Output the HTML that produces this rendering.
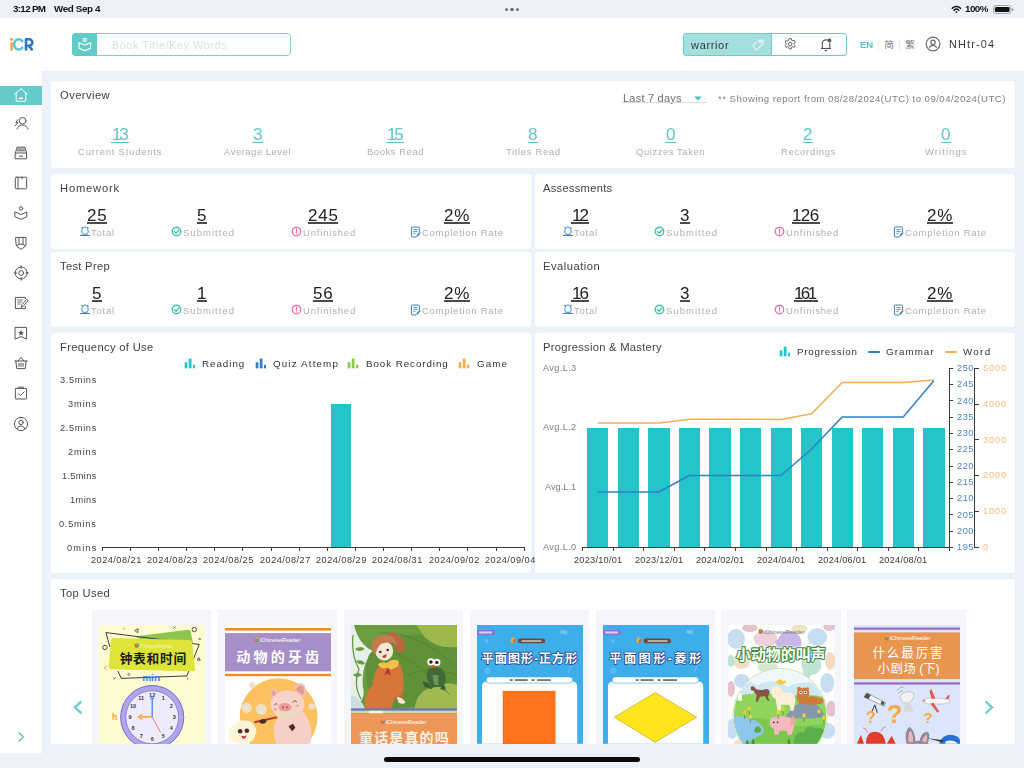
<!DOCTYPE html>
<html><head><meta charset="utf-8"><title>iCR</title>
<style>
html,body{margin:0;padding:0;}
body{width:1024px;height:768px;overflow:hidden;position:relative;background:#edf2fa;font-family:"Liberation Sans",sans-serif;}
.t{position:absolute;white-space:nowrap;will-change:transform;}
.b{position:absolute;display:block;}
.u{text-decoration:underline;text-decoration-thickness:1px;text-underline-offset:2px;}
</style></head><body>
<div class="b" style="left:0px;top:18px;width:1024px;height:53px;background:#fff;"></div>
<div class="b" style="left:0px;top:71px;width:42px;height:682px;background:#fff;"></div>
<div class="b" style="left:51px;top:81px;width:964px;height:87px;background:#fff;border-radius:3px;"></div>
<div class="b" style="left:51px;top:174px;width:480.20000000000005px;height:75px;background:#fff;border-radius:3px;"></div>
<div class="b" style="left:534.6px;top:174px;width:480.4px;height:75px;background:#fff;border-radius:3px;"></div>
<div class="b" style="left:51px;top:252px;width:480.20000000000005px;height:75px;background:#fff;border-radius:3px;"></div>
<div class="b" style="left:534.6px;top:252px;width:480.4px;height:75px;background:#fff;border-radius:3px;"></div>
<div class="b" style="left:51px;top:333px;width:480.20000000000005px;height:239.5px;background:#fff;border-radius:3px;"></div>
<div class="b" style="left:534.6px;top:333px;width:480.4px;height:239.5px;background:#fff;border-radius:3px;"></div>
<div class="b" style="left:51px;top:579px;width:964px;height:165px;background:#fff;border-radius:3px 3px 0 0;"></div>
<div class="t" style="left:12.50px;top:2.40px;font-size:9.8px;line-height:14px;color:#111;letter-spacing:-0.672px;font-weight:700;">3:12 PM</div>
<div class="t" style="left:53.50px;top:2.40px;font-size:9.8px;line-height:14px;color:#111;letter-spacing:-0.359px;font-weight:700;">Wed Sep 4</div>
<div class="b" style="left:504.9px;top:7.6px;width:3.2000000000000455px;height:3.200000000000001px;background:#6e7079;border-radius:50%;"></div>
<div class="b" style="left:510.4px;top:7.6px;width:3.2000000000000455px;height:3.200000000000001px;background:#6e7079;border-radius:50%;"></div>
<div class="b" style="left:515.9px;top:7.6px;width:3.2000000000000455px;height:3.200000000000001px;background:#6e7079;border-radius:50%;"></div>
<div class="t" style="left:965.40px;top:2.40px;font-size:9.8px;line-height:14px;color:#111;letter-spacing:-0.555px;font-weight:700;">100%</div>
<svg class="b" style="left:951.4px;top:4.8px;" width="10.8" height="8.6" viewBox="0 0 14 11.600" fill="none"><path d="M1.400 4.400 A8 8 0 0 1 12.600 4.400" stroke="#111" stroke-width="2.100" stroke-linecap="round"/><path d="M3.800 7 A4.600 4.600 0 0 1 10.200 7" stroke="#111" stroke-width="2.100" stroke-linecap="round"/><path d="M5.300 9.300 A2.400 2.400 0 0 1 8.700 9.300 L7 11.200 Z" fill="#111"/></svg>
<svg class="b" style="left:992.6px;top:4.5px;" width="21" height="9" viewBox="0 0 21 9" fill="none"><rect x="0.500" y="0.500" width="17.400" height="8" rx="2.300" stroke="#a0a2a9" stroke-width="1"/><rect x="1.900" y="1.900" width="14.600" height="5.200" rx="1.300" fill="#111"/><path d="M19 3 v3 a1.500 1.500 0 0 0 0 -3z" fill="#a0a2a9"/></svg>
<svg class="b" style="left:8px;top:34px;" width="28" height="20" viewBox="0 0 28 20" fill="none"><g fill="none" stroke-linecap="round" stroke-linejoin="round" stroke-width="2.600"><circle cx="3.550" cy="5.300" r="1.600" fill="#f4a64a" stroke="none"/><path d="M3.550 9.400 V15.400" stroke="#f4a64a"/><path d="M14.200 7.100 A4.600 5.100 0 1 0 14.200 13.700" stroke="#5bc8c4"/><path d="M18 5.300 V15.400 M18 5.300 H21 A3.300 3.300 0 0 1 21 11.900 H18 M21.300 12 L23.800 15.400" stroke="#2a76c6"/></g></svg>
<div class="b" style="left:72px;top:33px;width:219px;height:23px;background:#fff;border:1px solid #7fd0ce;border-radius:4px;box-sizing:border-box;"></div>
<div class="b" style="left:72px;top:33px;width:25px;height:23px;background:#62cac8;border-radius:4px 0 0 4px;"></div>
<svg class="b" style="left:77.8px;top:36.6px;" width="14" height="15" viewBox="0 0 14 15" fill="none"><circle cx="6.800" cy="2.900" r="1.500" stroke="#fff" stroke-width="1.150"/><path d="M1 5.800 L6.800 8 L12.600 5.800 V11.200 L6.800 13.600 L1 11.200 Z" stroke="#fff" stroke-width="1.200" stroke-linejoin="round"/></svg>
<div class="t" style="left:111.50px;top:37.50px;font-size:10.5px;line-height:15px;color:#dcdcdc;letter-spacing:0.754px;">Book Title/Key Words</div>
<div class="b" style="left:683px;top:33px;width:89px;height:23px;background:#a3dfdc;border:1px solid #6fcbc8;border-radius:3px 0 0 3px;box-sizing:border-box;"></div>
<div class="b" style="left:771px;top:33px;width:76px;height:23px;background:#fff;border:1px solid #6fcbc8;border-radius:0 3px 3px 0;box-sizing:border-box;"></div>
<div class="t" style="left:691.40px;top:36.50px;font-size:11.1px;line-height:16px;color:#2f3a3a;letter-spacing:0.614px;">warrior</div>
<svg class="b" style="left:750.8px;top:37.8px;" width="13.5" height="13.5" viewBox="0 0 15 15" fill="none"><path d="M8.2 2.2 L12.6 1.6 L13.2 6.4 L6.6 13.4 L2 9 Z" stroke="#fff" stroke-width="1" stroke-linejoin="round" transform="rotate(8 7.5 7.5)"/><circle cx="10.6" cy="4.6" r="1.2" stroke="#fff" stroke-width=".9"/></svg>
<svg class="b" style="left:783px;top:37.3px;" width="14.4" height="14.4" viewBox="0 0 16 16" fill="none"><g stroke="#555" stroke-width="1" fill="none"><circle cx="8" cy="8" r="2"/><path d="M6.8 1.8h2.4l.4 1.7 1.3.7 1.6-.6 1.2 2-1.2 1.2v1.4l1.2 1.2-1.2 2-1.6-.6-1.3.7-.4 1.7H6.800l-.4-1.700-1.300-.7-1.600.6-1.200-2 1.200-1.200V6.800L2.300 5.600l1.200-2 1.600.6 1.300-.7z" stroke-linejoin="round"/></g></svg>
<svg class="b" style="left:818px;top:36.5px;" width="16" height="16" viewBox="0 0 16 16" fill="none"><g stroke="#555" stroke-width="1.1" fill="none"><path d="M4.300 11.300 V6.600 A3.700 3.700 0 0 1 8 2.900 H9.500 M11.700 5.800 V11.300" stroke-linejoin="round"/><path d="M3 11.500 H13"/><path d="M6.800 13.600 H9.200"/></g><circle cx="11.400" cy="3.400" r="1.900" fill="#555"/></svg>
<div class="t" style="left:860.00px;top:38.30px;font-size:9.6px;line-height:13px;color:#55c4c2;letter-spacing:-0.037px;font-weight:700;">EN</div>
<div class="b" style="left:878px;top:40px;width:1px;height:10px;background:#ebebf1;"></div>
<div class="b" style="left:899px;top:40px;width:1px;height:10px;background:#ebebf1;"></div>
<svg class="b" style="left:883.7px;top:39px;" width="11" height="12" viewBox="0 0 11 12" fill="none"><text x="0.2" y="9.2" font-family="Liberation Sans, Noto Sans CJK SC, sans-serif" font-size="9.6" fill="#777">简</text></svg>
<svg class="b" style="left:905px;top:39px;" width="11" height="12" viewBox="0 0 11 12" fill="none"><text x="0.2" y="9.2" font-family="Liberation Sans, Noto Sans CJK TC, sans-serif" font-size="9.6" fill="#777">繁</text></svg>
<svg class="b" style="left:924.5px;top:36.45px;" width="16" height="16" viewBox="0 0 16 16" fill="none"><g stroke="#707070" stroke-width="1.250" fill="none"><circle cx="8" cy="8" r="6.850"/><circle cx="8" cy="6.300" r="2.200"/><path d="M4.300 11.800 A4 4 0 0 1 11.700 11.800"/></g></svg>
<div class="t" style="left:948.90px;top:37.10px;font-size:10.9px;line-height:15px;color:#3a3a3a;letter-spacing:1.141px;">NHtr-04</div>
<div class="b" style="left:0px;top:86px;width:42px;height:19px;background:#62cac8;"></div>
<svg class="b" style="left:13px;top:87px;" width="16" height="16" viewBox="0 0 16 16" fill="none"><g stroke="#fff" stroke-width="1" fill="none" stroke-linejoin="round" stroke-linecap="round"><path d="M1.6 7.2 L8 1.8 L14.4 7.200"/><path d="M3.2 6.200 V14.200 H12.800 V6.200"/><path d="M6.600 11.200 H9.400" stroke-width="1.4"/></g></svg>
<svg class="b" style="left:13px;top:115.3px;" width="16" height="16" viewBox="0 0 16 16" fill="none"><g stroke="#555" stroke-width="1" fill="none" stroke-linejoin="round" stroke-linecap="round"><circle cx="9.600" cy="5.800" r="3.300"/><path d="M4 14 A5.800 5.800 0 0 1 15 14"/><path d="M4.800 4.600 L3 7.400 H5 L2.200 10.800"/></g></svg>
<svg class="b" style="left:13px;top:145px;" width="16" height="16" viewBox="0 0 16 16" fill="none"><g stroke="#555" stroke-width="1" fill="none" stroke-linejoin="round" stroke-linecap="round"><path d="M2.400 8 L4 2.200 H12 L13.600 8 V13.800 H2.400 Z"/><path d="M2.400 8 H13.600"/><path d="M4.600 4 H11.400 M4.200 5.800 H11.800"/><path d="M6.400 11.200 H9.600"/></g></svg>
<svg class="b" style="left:13px;top:175px;" width="16" height="16" viewBox="0 0 16 16" fill="none"><g stroke="#555" stroke-width="1" fill="none" stroke-linejoin="round" stroke-linecap="round"><rect x="2.300" y="2.200" width="11.400" height="11.600" rx="1"/><path d="M5 2.200 V13.800"/><path d="M9 2.200 V3.800"/></g></svg>
<svg class="b" style="left:13px;top:205px;" width="16" height="16" viewBox="0 0 16 16" fill="none"><g stroke="#555" stroke-width="1" fill="none" stroke-linejoin="round" stroke-linecap="round"><circle cx="8" cy="3.400" r="1.700"/><path d="M2.200 7 L8 9.600 L13.800 7 V11.800 L8 14.400 L2.200 11.800 Z"/></g></svg>
<svg class="b" style="left:13px;top:235px;" width="16" height="16" viewBox="0 0 16 16" fill="none"><g stroke="#555" stroke-width="1" fill="none" stroke-linejoin="round" stroke-linecap="round"><path d="M3 2.400 H13 V9.400 Q13 11.800 8 14.300 Q3 11.800 3 9.400 Z"/><path d="M6 2.400 V9 M10 2.400 V9"/><path d="M4.200 10.400 Q8 7.400 11.800 10.400"/></g></svg>
<svg class="b" style="left:13px;top:265px;" width="16" height="16" viewBox="0 0 16 16" fill="none"><g stroke="#555" stroke-width="1" fill="none" stroke-linejoin="round" stroke-linecap="round"><circle cx="8.200" cy="8" r="6"/><circle cx="8.200" cy="8" r="2.400"/><path d="M8.200 .8 V3.400 M8.200 12.600 V15.200 M1 8 H3.600 M12.800 8 H15.400"/></g></svg>
<svg class="b" style="left:13px;top:295px;" width="16" height="16" viewBox="0 0 16 16" fill="none"><g stroke="#555" stroke-width="1" fill="none" stroke-linejoin="round" stroke-linecap="round"><path d="M12.400 11.400 V13.600 H2.400 V2.400 H12.400 V3.600"/><path d="M4.600 5 H9.600 M4.600 7 H8.600 M4.600 9 H7.400" stroke-width=".8"/><path d="M8.400 12 L9 9.600 L13.600 4.400 L15 5.600 L10.600 11 Z"/></g></svg>
<svg class="b" style="left:13px;top:324.8px;" width="16" height="16" viewBox="0 0 16 16" fill="none"><g stroke="#555" stroke-width="1" fill="none" stroke-linejoin="round" stroke-linecap="round"><path d="M2.400 2.400 H13.600 V14 L8 11.600 L2.400 14 Z"/><path d="M8 4.800 L8.900 6.900 L11 7 L9.400 8.400 L10 10.600 L8 9.400 L6 10.600 L6.600 8.400 L5 7 L7.100 6.900 Z" fill="#555" stroke="none"/></g></svg>
<svg class="b" style="left:13px;top:355px;" width="16" height="16" viewBox="0 0 16 16" fill="none"><g stroke="#555" stroke-width="1" fill="none" stroke-linejoin="round" stroke-linecap="round"><path d="M1.800 6 H14.200"/><path d="M2.800 6 L3.800 13.600 H12.200 L13.200 6"/><path d="M5 6 L8 2.400 L11 6"/><path d="M6 8.400 V11.400 M8 8.400 V11.400 M10 8.400 V11.400"/></g></svg>
<svg class="b" style="left:13px;top:385px;" width="16" height="16" viewBox="0 0 16 16" fill="none"><g stroke="#555" stroke-width="1" fill="none" stroke-linejoin="round" stroke-linecap="round"><rect x="2.400" y="3.400" width="11.200" height="10.600" rx=".6"/><path d="M5.600 3.400 V2.200 H10.400 V3.400"/><path d="M5.400 8.600 L7.400 10.600 L11 7"/></g></svg>
<svg class="b" style="left:13px;top:415.5px;" width="16" height="16" viewBox="0 0 16 16" fill="none"><g stroke="#555" stroke-width="1" fill="none" stroke-linejoin="round" stroke-linecap="round"><circle cx="8" cy="8" r="6.600"/><circle cx="8" cy="6.400" r="2.200"/><path d="M4.200 12.600 A4 4 0 0 1 11.800 12.600"/></g></svg>
<svg class="b" style="left:16px;top:730px;" width="10" height="14" viewBox="0 0 10 14" fill="none"><path d="M2.500 2.500 L7.500 7 L2.500 11.500" stroke="#62c6c4" stroke-width="1.300" fill="none"/></svg>
<div class="t" style="left:59.90px;top:87.00px;font-size:11.2px;line-height:16px;color:#424242;letter-spacing:0.432px;">Overview</div>
<div class="t" style="left:622.50px;top:90.70px;font-size:11px;line-height:15px;color:#6e6e6e;letter-spacing:0.225px;">Last 7 days</div>
<div class="b" style="left:622px;top:102px;width:85px;height:1px;background:#dadada;"></div>
<svg class="b" style="left:693px;top:94.6px;" width="10" height="7" viewBox="0 0 10 7" fill="none"><path d="M1.200 1.500 H8.800 L5 5.500 Z" fill="#4cc2c0"/></svg>
<div class="t" style="left:718.00px;top:91.70px;font-size:9.6px;line-height:13px;color:#808080;letter-spacing:0.475px;">** Showing report from 08/28/2024(UTC) to 09/04/2024(UTC)</div>
<div class="t" style="left:111.54px;top:121.90px;font-size:17.2px;line-height:24px;color:#5fc7c5;letter-spacing:-2.200px;">13</div>
<div class="b" style="left:110.93518750000001px;top:141.7px;width:18.129624999999976px;height:1.3000000000000114px;background:#5fc7c5;"></div>
<div class="t" style="left:78.00px;top:145.10px;font-size:9.5px;line-height:13px;color:#b0b0b0;letter-spacing:0.779px;">Current Students</div>
<div class="t" style="left:252.72px;top:121.90px;font-size:17.2px;line-height:24px;color:#5fc7c5;">3</div>
<div class="b" style="left:252.11759375px;top:141.7px;width:10.764812500000033px;height:1.3000000000000114px;background:#5fc7c5;"></div>
<div class="t" style="left:224.00px;top:145.10px;font-size:9.5px;line-height:13px;color:#b0b0b0;letter-spacing:0.495px;">Average Level</div>
<div class="t" style="left:386.54px;top:121.90px;font-size:17.2px;line-height:24px;color:#5fc7c5;letter-spacing:-2.200px;">15</div>
<div class="b" style="left:385.9351875px;top:141.7px;width:18.129625000000033px;height:1.3000000000000114px;background:#5fc7c5;"></div>
<div class="t" style="left:366.50px;top:145.10px;font-size:9.5px;line-height:13px;color:#b0b0b0;letter-spacing:0.528px;">Books Read</div>
<div class="t" style="left:528.22px;top:121.90px;font-size:17.2px;line-height:24px;color:#5fc7c5;">8</div>
<div class="b" style="left:527.61759375px;top:141.7px;width:10.764812500000062px;height:1.3000000000000114px;background:#5fc7c5;"></div>
<div class="t" style="left:505.50px;top:145.10px;font-size:9.5px;line-height:13px;color:#b0b0b0;letter-spacing:0.631px;">Titles Read</div>
<div class="t" style="left:665.72px;top:121.90px;font-size:17.2px;line-height:24px;color:#5fc7c5;">0</div>
<div class="b" style="left:665.11759375px;top:141.7px;width:10.764812500000062px;height:1.3000000000000114px;background:#5fc7c5;"></div>
<div class="t" style="left:636.00px;top:145.10px;font-size:9.5px;line-height:13px;color:#b0b0b0;letter-spacing:0.531px;">Quizzes Taken</div>
<div class="t" style="left:803.22px;top:121.90px;font-size:17.2px;line-height:24px;color:#5fc7c5;">2</div>
<div class="b" style="left:802.61759375px;top:141.7px;width:10.764812500000062px;height:1.3000000000000114px;background:#5fc7c5;"></div>
<div class="t" style="left:780.50px;top:145.10px;font-size:9.5px;line-height:13px;color:#b0b0b0;letter-spacing:0.717px;">Recordings</div>
<div class="t" style="left:941.22px;top:121.90px;font-size:17.2px;line-height:24px;color:#5fc7c5;">0</div>
<div class="b" style="left:940.61759375px;top:141.7px;width:10.764812500000062px;height:1.3000000000000114px;background:#5fc7c5;"></div>
<div class="t" style="left:925.00px;top:145.10px;font-size:9.5px;line-height:13px;color:#b0b0b0;letter-spacing:1.052px;">Writings</div>
<div class="t" style="left:60.00px;top:180.00px;font-size:11.2px;line-height:16px;color:#424242;letter-spacing:0.811px;">Homework</div>
<div class="t" style="left:87.15px;top:203.90px;font-size:17px;line-height:24px;color:#222;letter-spacing:0.800px;">25</div>
<div class="b" style="left:86.64640625px;top:222.4px;width:20.707187500000003px;height:1.299999999999983px;background:#4a4a4a;"></div>
<svg class="b" style="left:80.3px;top:226.3px;" width="11" height="11" viewBox="0 0 11 11" fill="none"><g stroke="#3f86c8" stroke-width="1" fill="none" stroke-linejoin="round"><path d="M2.300 3.300 L1.900 1.300 L3.600 2.100 L5 .5 L6.400 2.100 L8.100 1.300 L7.700 3.300 A3.700 3.700 0 0 1 6.600 8.300 H3.400 A3.700 3.700 0 0 1 2.300 3.300 Z"/><path d="M.3 9.500 H9.700 M3.200 8.400 L2.400 9.500 M6.800 8.400 L7.600 9.500" stroke-linecap="round"/></g></svg>
<div class="t" style="left:90.90px;top:226.10px;font-size:9.5px;line-height:13px;color:#b0b0b0;letter-spacing:0.759px;">Total</div>
<div class="t" style="left:197.27px;top:203.90px;font-size:17px;line-height:24px;color:#222;letter-spacing:0.800px;">5</div>
<div class="b" style="left:196.773203125px;top:222.4px;width:10.45359375000001px;height:1.299999999999983px;background:#4a4a4a;"></div>
<svg class="b" style="left:171px;top:226.3px;" width="11" height="11" viewBox="0 0 11 11" fill="none"><g stroke="#3fc3a2" stroke-width="1.350" fill="none" stroke-linecap="round" stroke-linejoin="round"><circle cx="5.500" cy="5.500" r="4.250"/><path d="M3.400 5.600 L5 7.200 L7.800 4.200"/></g></svg>
<div class="t" style="left:182.50px;top:226.10px;font-size:9.5px;line-height:13px;color:#b0b0b0;letter-spacing:1.029px;">Submitted</div>
<div class="t" style="left:308.02px;top:203.90px;font-size:17px;line-height:24px;color:#222;letter-spacing:0.800px;">245</div>
<div class="b" style="left:307.519609375px;top:222.4px;width:30.960781250000025px;height:1.299999999999983px;background:#4a4a4a;"></div>
<svg class="b" style="left:290.5px;top:226.3px;" width="11" height="11" viewBox="0 0 11 11" fill="none"><g stroke="#f7679e" stroke-width="1.250" fill="none" stroke-linecap="round"><circle cx="5.500" cy="5.500" r="4.250"/><path d="M5.500 3.100 V6.300" stroke-width="1.100"/><path d="M5.500 7.900 V8" stroke-width="1.100"/></g></svg>
<div class="t" style="left:302.60px;top:226.10px;font-size:9.5px;line-height:13px;color:#b0b0b0;letter-spacing:0.813px;">Unfinished</div>
<div class="t" style="left:444.31px;top:203.90px;font-size:17px;line-height:24px;color:#222;letter-spacing:0.800px;">2%</div>
<div class="b" style="left:443.81484375px;top:222.4px;width:26.37031250000001px;height:1.299999999999983px;background:#4a4a4a;"></div>
<svg class="b" style="left:410px;top:226.3px;" width="11" height="12" viewBox="0 0 11 12" fill="none"><g stroke="#3580c4" stroke-width="1" fill="none" stroke-linejoin="round"><path d="M9.400 6 V2 Q9.400 1 8.400 1 H2.400 Q1.400 1 1.400 2 V10 Q1.400 11 2.400 11 H6"/><path d="M3.400 3.600 H7.400 M3.400 5.600 H7.400 M3.400 7.600 H5.400" stroke-width=".9"/><path d="M6.600 10.800 L7 9 L9.600 6.200 L10.400 7 L7.800 9.900 Z" fill="#3f86c8" stroke-width=".6"/></g></svg>
<div class="t" style="left:422.00px;top:226.10px;font-size:9.5px;line-height:13px;color:#b0b0b0;letter-spacing:0.732px;">Completion Rate</div>
<div class="t" style="left:60.00px;top:258.00px;font-size:11.2px;line-height:16px;color:#424242;letter-spacing:0.299px;">Test Prep</div>
<div class="t" style="left:92.27px;top:281.90px;font-size:17px;line-height:24px;color:#222;letter-spacing:0.800px;">5</div>
<div class="b" style="left:91.773203125px;top:300.4px;width:10.453593749999996px;height:1.3000000000000114px;background:#4a4a4a;"></div>
<svg class="b" style="left:80.3px;top:304.3px;" width="11" height="11" viewBox="0 0 11 11" fill="none"><g stroke="#3f86c8" stroke-width="1" fill="none" stroke-linejoin="round"><path d="M2.300 3.300 L1.900 1.300 L3.600 2.100 L5 .5 L6.400 2.100 L8.100 1.300 L7.700 3.300 A3.700 3.700 0 0 1 6.600 8.300 H3.400 A3.700 3.700 0 0 1 2.300 3.300 Z"/><path d="M.3 9.500 H9.700 M3.200 8.400 L2.400 9.500 M6.800 8.400 L7.600 9.500" stroke-linecap="round"/></g></svg>
<div class="t" style="left:90.90px;top:304.10px;font-size:9.5px;line-height:13px;color:#b0b0b0;letter-spacing:0.759px;">Total</div>
<div class="t" style="left:197.27px;top:281.90px;font-size:17px;line-height:24px;color:#222;letter-spacing:0.800px;">1</div>
<div class="b" style="left:196.773203125px;top:300.4px;width:10.45359375000001px;height:1.3000000000000114px;background:#4a4a4a;"></div>
<svg class="b" style="left:171px;top:304.3px;" width="11" height="11" viewBox="0 0 11 11" fill="none"><g stroke="#3fc3a2" stroke-width="1.350" fill="none" stroke-linecap="round" stroke-linejoin="round"><circle cx="5.500" cy="5.500" r="4.250"/><path d="M3.400 5.600 L5 7.200 L7.800 4.200"/></g></svg>
<div class="t" style="left:182.50px;top:304.10px;font-size:9.5px;line-height:13px;color:#b0b0b0;letter-spacing:1.029px;">Submitted</div>
<div class="t" style="left:313.15px;top:281.90px;font-size:17px;line-height:24px;color:#222;letter-spacing:0.800px;">56</div>
<div class="b" style="left:312.64640625px;top:300.4px;width:20.707187499999975px;height:1.3000000000000114px;background:#4a4a4a;"></div>
<svg class="b" style="left:290.5px;top:304.3px;" width="11" height="11" viewBox="0 0 11 11" fill="none"><g stroke="#f7679e" stroke-width="1.250" fill="none" stroke-linecap="round"><circle cx="5.500" cy="5.500" r="4.250"/><path d="M5.500 3.100 V6.300" stroke-width="1.100"/><path d="M5.500 7.900 V8" stroke-width="1.100"/></g></svg>
<div class="t" style="left:302.60px;top:304.10px;font-size:9.5px;line-height:13px;color:#b0b0b0;letter-spacing:0.813px;">Unfinished</div>
<div class="t" style="left:444.31px;top:281.90px;font-size:17px;line-height:24px;color:#222;letter-spacing:0.800px;">2%</div>
<div class="b" style="left:443.81484375px;top:300.4px;width:26.37031250000001px;height:1.3000000000000114px;background:#4a4a4a;"></div>
<svg class="b" style="left:410px;top:304.3px;" width="11" height="12" viewBox="0 0 11 12" fill="none"><g stroke="#3580c4" stroke-width="1" fill="none" stroke-linejoin="round"><path d="M9.400 6 V2 Q9.400 1 8.400 1 H2.400 Q1.400 1 1.400 2 V10 Q1.400 11 2.400 11 H6"/><path d="M3.400 3.600 H7.400 M3.400 5.600 H7.400 M3.400 7.600 H5.400" stroke-width=".9"/><path d="M6.600 10.800 L7 9 L9.600 6.200 L10.400 7 L7.800 9.900 Z" fill="#3f86c8" stroke-width=".6"/></g></svg>
<div class="t" style="left:422.00px;top:304.10px;font-size:9.5px;line-height:13px;color:#b0b0b0;letter-spacing:0.732px;">Completion Rate</div>
<div class="t" style="left:543.00px;top:180.00px;font-size:11.2px;line-height:16px;color:#424242;letter-spacing:0.260px;">Assessments</div>
<div class="t" style="left:571.55px;top:203.90px;font-size:17px;line-height:24px;color:#222;letter-spacing:-2.007px;">12</div>
<div class="b" style="left:571.05px;top:222.4px;width:17.899999999999977px;height:1.299999999999983px;background:#4a4a4a;"></div>
<svg class="b" style="left:563.3px;top:226.3px;" width="11" height="11" viewBox="0 0 11 11" fill="none"><g stroke="#3f86c8" stroke-width="1" fill="none" stroke-linejoin="round"><path d="M2.300 3.300 L1.900 1.300 L3.600 2.100 L5 .5 L6.400 2.100 L8.100 1.300 L7.700 3.300 A3.700 3.700 0 0 1 6.600 8.300 H3.400 A3.700 3.700 0 0 1 2.300 3.300 Z"/><path d="M.3 9.500 H9.700 M3.200 8.400 L2.400 9.500 M6.800 8.400 L7.600 9.500" stroke-linecap="round"/></g></svg>
<div class="t" style="left:573.90px;top:226.10px;font-size:9.5px;line-height:13px;color:#b0b0b0;letter-spacing:0.759px;">Total</div>
<div class="t" style="left:680.27px;top:203.90px;font-size:17px;line-height:24px;color:#222;letter-spacing:0.800px;">3</div>
<div class="b" style="left:679.773203125px;top:222.4px;width:10.453593749999982px;height:1.299999999999983px;background:#4a4a4a;"></div>
<svg class="b" style="left:654px;top:226.3px;" width="11" height="11" viewBox="0 0 11 11" fill="none"><g stroke="#3fc3a2" stroke-width="1.350" fill="none" stroke-linecap="round" stroke-linejoin="round"><circle cx="5.500" cy="5.500" r="4.250"/><path d="M3.400 5.600 L5 7.200 L7.800 4.200"/></g></svg>
<div class="t" style="left:665.50px;top:226.10px;font-size:9.5px;line-height:13px;color:#b0b0b0;letter-spacing:1.029px;">Submitted</div>
<div class="t" style="left:792.45px;top:203.90px;font-size:17px;line-height:24px;color:#222;letter-spacing:-0.630px;">126</div>
<div class="b" style="left:791.95px;top:222.4px;width:28.100000000000023px;height:1.299999999999983px;background:#4a4a4a;"></div>
<svg class="b" style="left:773.5px;top:226.3px;" width="11" height="11" viewBox="0 0 11 11" fill="none"><g stroke="#f7679e" stroke-width="1.250" fill="none" stroke-linecap="round"><circle cx="5.500" cy="5.500" r="4.250"/><path d="M5.500 3.100 V6.300" stroke-width="1.100"/><path d="M5.500 7.900 V8" stroke-width="1.100"/></g></svg>
<div class="t" style="left:785.60px;top:226.10px;font-size:9.5px;line-height:13px;color:#b0b0b0;letter-spacing:0.813px;">Unfinished</div>
<div class="t" style="left:927.31px;top:203.90px;font-size:17px;line-height:24px;color:#222;letter-spacing:0.800px;">2%</div>
<div class="b" style="left:926.81484375px;top:222.4px;width:26.370312499999955px;height:1.299999999999983px;background:#4a4a4a;"></div>
<svg class="b" style="left:893px;top:226.3px;" width="11" height="12" viewBox="0 0 11 12" fill="none"><g stroke="#3580c4" stroke-width="1" fill="none" stroke-linejoin="round"><path d="M9.400 6 V2 Q9.400 1 8.400 1 H2.400 Q1.400 1 1.400 2 V10 Q1.400 11 2.400 11 H6"/><path d="M3.400 3.600 H7.400 M3.400 5.600 H7.400 M3.400 7.600 H5.400" stroke-width=".9"/><path d="M6.600 10.800 L7 9 L9.600 6.200 L10.400 7 L7.800 9.900 Z" fill="#3f86c8" stroke-width=".6"/></g></svg>
<div class="t" style="left:905.00px;top:226.10px;font-size:9.5px;line-height:13px;color:#b0b0b0;letter-spacing:0.732px;">Completion Rate</div>
<div class="t" style="left:543.00px;top:258.00px;font-size:11.2px;line-height:16px;color:#424242;letter-spacing:0.489px;">Evaluation</div>
<div class="t" style="left:571.55px;top:281.90px;font-size:17px;line-height:24px;color:#222;letter-spacing:-2.007px;">16</div>
<div class="b" style="left:571.05px;top:300.4px;width:17.899999999999977px;height:1.3000000000000114px;background:#4a4a4a;"></div>
<svg class="b" style="left:563.3px;top:304.3px;" width="11" height="11" viewBox="0 0 11 11" fill="none"><g stroke="#3f86c8" stroke-width="1" fill="none" stroke-linejoin="round"><path d="M2.300 3.300 L1.900 1.300 L3.600 2.100 L5 .5 L6.400 2.100 L8.100 1.300 L7.700 3.300 A3.700 3.700 0 0 1 6.600 8.300 H3.400 A3.700 3.700 0 0 1 2.300 3.300 Z"/><path d="M.3 9.500 H9.700 M3.200 8.400 L2.400 9.500 M6.800 8.400 L7.600 9.500" stroke-linecap="round"/></g></svg>
<div class="t" style="left:573.90px;top:304.10px;font-size:9.5px;line-height:13px;color:#b0b0b0;letter-spacing:0.759px;">Total</div>
<div class="t" style="left:680.27px;top:281.90px;font-size:17px;line-height:24px;color:#222;letter-spacing:0.800px;">3</div>
<div class="b" style="left:679.773203125px;top:300.4px;width:10.453593749999982px;height:1.3000000000000114px;background:#4a4a4a;"></div>
<svg class="b" style="left:654px;top:304.3px;" width="11" height="11" viewBox="0 0 11 11" fill="none"><g stroke="#3fc3a2" stroke-width="1.350" fill="none" stroke-linecap="round" stroke-linejoin="round"><circle cx="5.500" cy="5.500" r="4.250"/><path d="M3.400 5.600 L5 7.200 L7.800 4.200"/></g></svg>
<div class="t" style="left:665.50px;top:304.10px;font-size:9.5px;line-height:13px;color:#b0b0b0;letter-spacing:1.029px;">Submitted</div>
<div class="t" style="left:794.40px;top:281.90px;font-size:17px;line-height:24px;color:#222;letter-spacing:-2.580px;">161</div>
<div class="b" style="left:793.9px;top:300.4px;width:24.200000000000045px;height:1.3000000000000114px;background:#4a4a4a;"></div>
<svg class="b" style="left:773.5px;top:304.3px;" width="11" height="11" viewBox="0 0 11 11" fill="none"><g stroke="#f7679e" stroke-width="1.250" fill="none" stroke-linecap="round"><circle cx="5.500" cy="5.500" r="4.250"/><path d="M5.500 3.100 V6.300" stroke-width="1.100"/><path d="M5.500 7.900 V8" stroke-width="1.100"/></g></svg>
<div class="t" style="left:785.60px;top:304.10px;font-size:9.5px;line-height:13px;color:#b0b0b0;letter-spacing:0.813px;">Unfinished</div>
<div class="t" style="left:927.31px;top:281.90px;font-size:17px;line-height:24px;color:#222;letter-spacing:0.800px;">2%</div>
<div class="b" style="left:926.81484375px;top:300.4px;width:26.370312499999955px;height:1.3000000000000114px;background:#4a4a4a;"></div>
<svg class="b" style="left:893px;top:304.3px;" width="11" height="12" viewBox="0 0 11 12" fill="none"><g stroke="#3580c4" stroke-width="1" fill="none" stroke-linejoin="round"><path d="M9.400 6 V2 Q9.400 1 8.400 1 H2.400 Q1.400 1 1.400 2 V10 Q1.400 11 2.400 11 H6"/><path d="M3.400 3.600 H7.400 M3.400 5.600 H7.400 M3.400 7.600 H5.400" stroke-width=".9"/><path d="M6.600 10.800 L7 9 L9.600 6.200 L10.400 7 L7.800 9.900 Z" fill="#3f86c8" stroke-width=".6"/></g></svg>
<div class="t" style="left:905.00px;top:304.10px;font-size:9.5px;line-height:13px;color:#b0b0b0;letter-spacing:0.732px;">Completion Rate</div>
<div class="t" style="left:60.00px;top:338.80px;font-size:11.2px;line-height:16px;color:#424242;letter-spacing:0.327px;">Frequency of Use</div>
<svg class="b" style="left:183.6px;top:357.9px;" width="11.6" height="11" viewBox="0 0 12 11" fill="none"><rect x="0.700" y="4.200" width="2.800" height="6.300" fill="#23c5c8"/><rect x="4.900" y="0.400" width="2.900" height="10.100" fill="#23c5c8"/><rect x="9.300" y="6.800" width="2.500" height="3.700" fill="#23c5c8"/></svg>
<div class="t" style="left:202.00px;top:357.40px;font-size:9.8px;line-height:14px;color:#333;letter-spacing:0.966px;">Reading</div>
<svg class="b" style="left:254.6px;top:357.9px;" width="11.6" height="11" viewBox="0 0 12 11" fill="none"><rect x="0.700" y="4.200" width="2.800" height="6.300" fill="#2f7fc6"/><rect x="4.900" y="0.400" width="2.900" height="10.100" fill="#2f7fc6"/><rect x="9.300" y="6.800" width="2.500" height="3.700" fill="#2f7fc6"/></svg>
<div class="t" style="left:272.70px;top:357.40px;font-size:9.8px;line-height:14px;color:#333;letter-spacing:1.152px;">Quiz Attemp</div>
<svg class="b" style="left:347.1px;top:357.9px;" width="11.6" height="11" viewBox="0 0 12 11" fill="none"><rect x="0.700" y="4.200" width="2.800" height="6.300" fill="#8bc84e"/><rect x="4.900" y="0.400" width="2.900" height="10.100" fill="#8bc84e"/><rect x="9.300" y="6.800" width="2.500" height="3.700" fill="#8bc84e"/></svg>
<div class="t" style="left:366.20px;top:357.40px;font-size:9.8px;line-height:14px;color:#333;letter-spacing:0.929px;">Book Recording</div>
<svg class="b" style="left:458.1px;top:357.9px;" width="11.6" height="11" viewBox="0 0 12 11" fill="none"><rect x="0.700" y="4.200" width="2.800" height="6.300" fill="#f6ad55"/><rect x="4.900" y="0.400" width="2.900" height="10.100" fill="#f6ad55"/><rect x="9.300" y="6.800" width="2.500" height="3.700" fill="#f6ad55"/></svg>
<div class="t" style="left:476.70px;top:357.40px;font-size:9.8px;line-height:14px;color:#333;letter-spacing:1.072px;">Game</div>
<div class="t" style="left:59.50px;top:374.40px;font-size:9.2px;line-height:13px;color:#444;letter-spacing:0.681px;">3.5mins</div>
<div class="t" style="left:67.50px;top:398.30px;font-size:9.2px;line-height:13px;color:#444;letter-spacing:0.940px;">3mins</div>
<div class="t" style="left:59.50px;top:422.20px;font-size:9.2px;line-height:13px;color:#444;letter-spacing:0.681px;">2.5mins</div>
<div class="t" style="left:67.50px;top:446.10px;font-size:9.2px;line-height:13px;color:#444;letter-spacing:0.940px;">2mins</div>
<div class="t" style="left:61.50px;top:470.00px;font-size:9.2px;line-height:13px;color:#444;letter-spacing:0.348px;">1.5mins</div>
<div class="t" style="left:69.50px;top:493.90px;font-size:9.2px;line-height:13px;color:#444;letter-spacing:0.440px;">1mins</div>
<div class="t" style="left:59.00px;top:517.80px;font-size:9.2px;line-height:13px;color:#444;letter-spacing:0.765px;">0.5mins</div>
<div class="t" style="left:66.50px;top:541.70px;font-size:9.2px;line-height:13px;color:#444;letter-spacing:1.190px;">0mins</div>
<div class="b" style="left:102px;top:547px;width:422.5px;height:1px;background:#3c3c3c;"></div>
<div class="b" style="left:101.5px;top:547px;width:1.0px;height:4px;background:#3c3c3c;"></div>
<div class="b" style="left:129.5px;top:547px;width:1.0px;height:4px;background:#3c3c3c;"></div>
<div class="b" style="left:158.0px;top:547px;width:1.0px;height:4px;background:#3c3c3c;"></div>
<div class="b" style="left:186.0px;top:547px;width:1.0px;height:4px;background:#3c3c3c;"></div>
<div class="b" style="left:214.0px;top:547px;width:1.0px;height:4px;background:#3c3c3c;"></div>
<div class="b" style="left:242.0px;top:547px;width:1.0px;height:4px;background:#3c3c3c;"></div>
<div class="b" style="left:270.5px;top:547px;width:1.0px;height:4px;background:#3c3c3c;"></div>
<div class="b" style="left:298.5px;top:547px;width:1.0px;height:4px;background:#3c3c3c;"></div>
<div class="b" style="left:326.5px;top:547px;width:1.0px;height:4px;background:#3c3c3c;"></div>
<div class="b" style="left:354.5px;top:547px;width:1.0px;height:4px;background:#3c3c3c;"></div>
<div class="b" style="left:383.0px;top:547px;width:1.0px;height:4px;background:#3c3c3c;"></div>
<div class="b" style="left:411.0px;top:547px;width:1.0px;height:4px;background:#3c3c3c;"></div>
<div class="b" style="left:439.0px;top:547px;width:1.0px;height:4px;background:#3c3c3c;"></div>
<div class="b" style="left:467.0px;top:547px;width:1.0px;height:4px;background:#3c3c3c;"></div>
<div class="b" style="left:495.5px;top:547px;width:1.0px;height:4px;background:#3c3c3c;"></div>
<div class="b" style="left:523.5px;top:547px;width:1.0px;height:4px;background:#3c3c3c;"></div>
<div class="b" style="left:331.2px;top:404px;width:19.80000000000001px;height:143px;background:#23c5c8;"></div>
<div class="b" style="left:51px;top:550px;width:483.5px;height:20px;overflow:hidden;">
<div class="t" style="left:39.96px;top:3.70px;font-size:9.2px;line-height:13px;color:#3a3a3a;letter-spacing:0.473px;">2024/08/21</div>
<div class="t" style="left:96.22px;top:3.70px;font-size:9.2px;line-height:13px;color:#3a3a3a;letter-spacing:0.473px;">2024/08/23</div>
<div class="t" style="left:152.48px;top:3.70px;font-size:9.2px;line-height:13px;color:#3a3a3a;letter-spacing:0.473px;">2024/08/25</div>
<div class="t" style="left:208.74px;top:3.70px;font-size:9.2px;line-height:13px;color:#3a3a3a;letter-spacing:0.473px;">2024/08/27</div>
<div class="t" style="left:265.00px;top:3.70px;font-size:9.2px;line-height:13px;color:#3a3a3a;letter-spacing:0.473px;">2024/08/29</div>
<div class="t" style="left:321.26px;top:3.70px;font-size:9.2px;line-height:13px;color:#3a3a3a;letter-spacing:0.473px;">2024/08/31</div>
<div class="t" style="left:377.52px;top:3.70px;font-size:9.2px;line-height:13px;color:#3a3a3a;letter-spacing:0.473px;">2024/09/02</div>
<div class="t" style="left:433.78px;top:3.70px;font-size:9.2px;line-height:13px;color:#3a3a3a;letter-spacing:0.473px;">2024/09/04</div>
</div>
<div class="t" style="left:543.00px;top:338.80px;font-size:11.2px;line-height:16px;color:#424242;letter-spacing:0.276px;">Progression &amp; Mastery</div>
<svg class="b" style="left:778.9px;top:345.9px;" width="11.6" height="11" viewBox="0 0 12 11" fill="none"><rect x="0.700" y="4.200" width="2.800" height="6.300" fill="#23c5c8"/><rect x="4.900" y="0.400" width="2.900" height="10.100" fill="#23c5c8"/><rect x="9.300" y="6.800" width="2.500" height="3.700" fill="#23c5c8"/></svg>
<div class="t" style="left:797.20px;top:345.40px;font-size:9.8px;line-height:14px;color:#333;letter-spacing:0.771px;">Progression</div>
<div class="b" style="left:867.5px;top:351.4px;width:12.0px;height:2.0px;background:#2f7fc6;border-radius:1px;"></div>
<div class="t" style="left:886.20px;top:345.40px;font-size:9.8px;line-height:14px;color:#333;letter-spacing:1.038px;">Grammar</div>
<div class="b" style="left:944.8px;top:351.4px;width:11.800000000000068px;height:2.0px;background:#f6ad55;border-radius:1px;"></div>
<div class="t" style="left:963.20px;top:345.40px;font-size:9.8px;line-height:14px;color:#333;letter-spacing:1.288px;">Word</div>
<div class="t" style="left:543.00px;top:361.80px;font-size:9.2px;line-height:13px;color:#808080;letter-spacing:0.362px;">Avg.L.3</div>
<div class="t" style="left:543.00px;top:421.47px;font-size:9.2px;line-height:13px;color:#808080;letter-spacing:0.362px;">Avg.L.2</div>
<div class="t" style="left:545.00px;top:481.14px;font-size:9.2px;line-height:13px;color:#808080;letter-spacing:0.028px;">Avg.L.1</div>
<div class="t" style="left:543.00px;top:540.81px;font-size:9.2px;line-height:13px;color:#808080;letter-spacing:0.362px;">Avg.L.0</div>
<div class="b" style="left:587.25px;top:427.7px;width:21.0px;height:119.30000000000001px;background:#23c5c8;"></div>
<div class="b" style="left:617.75px;top:427.7px;width:21.25px;height:119.30000000000001px;background:#23c5c8;"></div>
<div class="b" style="left:648.25px;top:427.7px;width:21.25px;height:119.30000000000001px;background:#23c5c8;"></div>
<div class="b" style="left:678.75px;top:427.7px;width:21.25px;height:119.30000000000001px;background:#23c5c8;"></div>
<div class="b" style="left:709.25px;top:427.7px;width:21.25px;height:119.30000000000001px;background:#23c5c8;"></div>
<div class="b" style="left:740.0px;top:427.7px;width:21.0px;height:119.30000000000001px;background:#23c5c8;"></div>
<div class="b" style="left:770.5px;top:427.7px;width:21.25px;height:119.30000000000001px;background:#23c5c8;"></div>
<div class="b" style="left:801.0px;top:427.7px;width:21.25px;height:119.30000000000001px;background:#23c5c8;"></div>
<div class="b" style="left:831.5px;top:427.7px;width:21.25px;height:119.30000000000001px;background:#23c5c8;"></div>
<div class="b" style="left:862.0px;top:427.7px;width:21.25px;height:119.30000000000001px;background:#23c5c8;"></div>
<div class="b" style="left:892.75px;top:427.7px;width:21.0px;height:119.30000000000001px;background:#23c5c8;"></div>
<div class="b" style="left:923.25px;top:427.7px;width:21.25px;height:119.30000000000001px;background:#23c5c8;"></div>
<div class="b" style="left:582.5px;top:547px;width:367.5px;height:1px;background:#3c3c3c;"></div>
<div class="b" style="left:582.0px;top:547px;width:1.0px;height:4px;background:#3c3c3c;"></div>
<div class="b" style="left:612.5px;top:547px;width:1.0px;height:4px;background:#3c3c3c;"></div>
<div class="b" style="left:643.0px;top:547px;width:1.0px;height:4px;background:#3c3c3c;"></div>
<div class="b" style="left:673.5px;top:547px;width:1.0px;height:4px;background:#3c3c3c;"></div>
<div class="b" style="left:704.0px;top:547px;width:1.0px;height:4px;background:#3c3c3c;"></div>
<div class="b" style="left:734.5px;top:547px;width:1.0px;height:4px;background:#3c3c3c;"></div>
<div class="b" style="left:765.5px;top:547px;width:1.0px;height:4px;background:#3c3c3c;"></div>
<div class="b" style="left:796.0px;top:547px;width:1.0px;height:4px;background:#3c3c3c;"></div>
<div class="b" style="left:826.5px;top:547px;width:1.0px;height:4px;background:#3c3c3c;"></div>
<div class="b" style="left:857.0px;top:547px;width:1.0px;height:4px;background:#3c3c3c;"></div>
<div class="b" style="left:887.5px;top:547px;width:1.0px;height:4px;background:#3c3c3c;"></div>
<div class="b" style="left:918.0px;top:547px;width:1.0px;height:4px;background:#3c3c3c;"></div>
<div class="b" style="left:948.5px;top:547px;width:1.0px;height:4px;background:#3c3c3c;"></div>
<div class="t" style="left:573.65px;top:553.70px;font-size:9.2px;line-height:13px;color:#3a3a3a;letter-spacing:0.240px;">2023/10/01</div>
<div class="t" style="left:634.75px;top:553.70px;font-size:9.2px;line-height:13px;color:#3a3a3a;letter-spacing:0.240px;">2023/12/01</div>
<div class="t" style="left:695.85px;top:553.70px;font-size:9.2px;line-height:13px;color:#3a3a3a;letter-spacing:0.240px;">2024/02/01</div>
<div class="t" style="left:756.95px;top:553.70px;font-size:9.2px;line-height:13px;color:#3a3a3a;letter-spacing:0.240px;">2024/04/01</div>
<div class="t" style="left:818.05px;top:553.70px;font-size:9.2px;line-height:13px;color:#3a3a3a;letter-spacing:0.240px;">2024/06/01</div>
<div class="t" style="left:879.15px;top:553.70px;font-size:9.2px;line-height:13px;color:#3a3a3a;letter-spacing:0.240px;">2024/08/01</div>
<div class="b" style="left:949px;top:368px;width:1px;height:180px;background:#3c3c3c;"></div>
<div class="b" style="left:974.2px;top:368px;width:1.0px;height:180px;background:#3c3c3c;"></div>
<div class="b" style="left:949.5px;top:367.7px;width:3.5px;height:1.0px;background:#3c3c3c;"></div>
<div class="t" style="left:956.90px;top:361.90px;font-size:9.2px;line-height:13px;color:#4a86c9;letter-spacing:0.526px;">250</div>
<div class="b" style="left:949.5px;top:384.0px;width:3.5px;height:1.0px;background:#3c3c3c;"></div>
<div class="t" style="left:956.90px;top:378.20px;font-size:9.2px;line-height:13px;color:#4a86c9;letter-spacing:0.526px;">245</div>
<div class="b" style="left:949.5px;top:400.3px;width:3.5px;height:1.0px;background:#3c3c3c;"></div>
<div class="t" style="left:956.90px;top:394.50px;font-size:9.2px;line-height:13px;color:#4a86c9;letter-spacing:0.526px;">240</div>
<div class="b" style="left:949.5px;top:416.6px;width:3.5px;height:1.0px;background:#3c3c3c;"></div>
<div class="t" style="left:956.90px;top:410.80px;font-size:9.2px;line-height:13px;color:#4a86c9;letter-spacing:0.526px;">235</div>
<div class="b" style="left:949.5px;top:432.9px;width:3.5px;height:1.0px;background:#3c3c3c;"></div>
<div class="t" style="left:956.90px;top:427.10px;font-size:9.2px;line-height:13px;color:#4a86c9;letter-spacing:0.526px;">230</div>
<div class="b" style="left:949.5px;top:449.2px;width:3.5px;height:1.0px;background:#3c3c3c;"></div>
<div class="t" style="left:956.90px;top:443.40px;font-size:9.2px;line-height:13px;color:#4a86c9;letter-spacing:0.526px;">225</div>
<div class="b" style="left:949.5px;top:465.5px;width:3.5px;height:1.0px;background:#3c3c3c;"></div>
<div class="t" style="left:956.90px;top:459.70px;font-size:9.2px;line-height:13px;color:#4a86c9;letter-spacing:0.526px;">220</div>
<div class="b" style="left:949.5px;top:481.8px;width:3.5px;height:1.0px;background:#3c3c3c;"></div>
<div class="t" style="left:956.90px;top:476.00px;font-size:9.2px;line-height:13px;color:#4a86c9;letter-spacing:0.526px;">215</div>
<div class="b" style="left:949.5px;top:498.1px;width:3.5px;height:1.0px;background:#3c3c3c;"></div>
<div class="t" style="left:956.90px;top:492.30px;font-size:9.2px;line-height:13px;color:#4a86c9;letter-spacing:0.526px;">210</div>
<div class="b" style="left:949.5px;top:514.4px;width:3.5px;height:1.0px;background:#3c3c3c;"></div>
<div class="t" style="left:956.90px;top:508.60px;font-size:9.2px;line-height:13px;color:#4a86c9;letter-spacing:0.526px;">205</div>
<div class="b" style="left:949.5px;top:530.7px;width:3.5px;height:1.0px;background:#3c3c3c;"></div>
<div class="t" style="left:956.90px;top:524.90px;font-size:9.2px;line-height:13px;color:#4a86c9;letter-spacing:0.526px;">200</div>
<div class="b" style="left:949.5px;top:547.0px;width:3.5px;height:1.0px;background:#3c3c3c;"></div>
<div class="t" style="left:956.90px;top:541.20px;font-size:9.2px;line-height:13px;color:#4a86c9;letter-spacing:0.526px;">195</div>
<div class="b" style="left:974.7px;top:367.7px;width:3.8999999999999773px;height:1.0px;background:#3c3c3c;"></div>
<div class="t" style="left:982.70px;top:361.90px;font-size:9.2px;line-height:13px;color:#f8bb78;letter-spacing:0.879px;">5000</div>
<div class="b" style="left:974.7px;top:403.56px;width:3.8999999999999773px;height:1.0px;background:#3c3c3c;"></div>
<div class="t" style="left:982.70px;top:397.76px;font-size:9.2px;line-height:13px;color:#f8bb78;letter-spacing:0.879px;">4000</div>
<div class="b" style="left:974.7px;top:439.41999999999996px;width:3.8999999999999773px;height:1.0px;background:#3c3c3c;"></div>
<div class="t" style="left:982.70px;top:433.62px;font-size:9.2px;line-height:13px;color:#f8bb78;letter-spacing:0.879px;">3000</div>
<div class="b" style="left:974.7px;top:475.28px;width:3.8999999999999773px;height:1.0px;background:#3c3c3c;"></div>
<div class="t" style="left:982.70px;top:469.48px;font-size:9.2px;line-height:13px;color:#f8bb78;letter-spacing:0.879px;">2000</div>
<div class="b" style="left:974.7px;top:511.14px;width:3.8999999999999773px;height:1.0px;background:#3c3c3c;"></div>
<div class="t" style="left:982.70px;top:505.34px;font-size:9.2px;line-height:13px;color:#f8bb78;letter-spacing:0.879px;">1000</div>
<div class="b" style="left:974.7px;top:547.0px;width:3.8999999999999773px;height:1.0px;background:#3c3c3c;"></div>
<div class="t" style="left:982.70px;top:541.20px;font-size:9.2px;line-height:13px;color:#f8bb78;">0</div>
<svg class="b" style="left:534px;top:333px;" width="481" height="240" viewBox="0 0 481 240" fill="none"><polyline points="63.75,90.00 94.30,90.00 124.85,90.00 155.40,86.30 185.95,86.30 216.50,86.30 247.05,86.40 277.60,80.80 308.15,49.50 338.70,49.50 369.25,49.50 399.80,47.00" stroke="#f6ad55" stroke-width="1.500" fill="none" stroke-linejoin="round"/><polyline points="63.75,159.00 94.30,159.00 124.85,159.00 155.40,142.50 185.95,142.50 216.50,142.50 247.05,142.50 277.60,116.00 308.15,84.00 338.70,84.00 369.25,84.00 399.80,47.80" stroke="#2f7fc6" stroke-width="1.500" fill="none" stroke-linejoin="round"/></svg>
<div class="t" style="left:60.00px;top:584.70px;font-size:11.2px;line-height:16px;color:#424242;letter-spacing:0.355px;">Top Used</div>
<div class="b" style="left:92.3px;top:609.5px;width:119.2px;height:134.5px;background:#f5f6fc;"></div>
<svg class="b" style="left:99.20px;top:625.2px;" width="106.2" height="118.8" viewBox="0 0 107 119" preserveAspectRatio="none"><rect width="107" height="119" fill="#fffbd1"/><path d="M36 11.5 L90 4.8 Q92 4.600 92.400 6.500 L94.800 19 L42 14 Z" fill="#8cc74b"/><path d="M7 7.600 L101 19.500 L88.500 51 L22.500 53.500 L19 46" fill="none" stroke="#3a3a3a" stroke-width="1" stroke-linejoin="round"/><path d="M7 7.600 L11 22" fill="none" stroke="#3a3a3a" stroke-width="1"/><path d="M14.500 13 L91 15 Q93.500 15.200 93.800 17.500 L96.800 44 Q97 46.500 94.500 46.400 L12 44.300 Q9.500 44.200 9.800 41.800 L12 15 Q12.300 13 14.500 13Z" fill="#dfe438"/><circle cx="96" cy="4.500" r="2.200" fill="none" stroke="#3a3a3a" stroke-width=".9"/><circle cx="6" cy="22.500" r="2.200" fill="none" stroke="#3a3a3a" stroke-width=".9"/><circle cx="30" cy="49.500" r="1" fill="none" stroke="#3a3a3a" stroke-width=".6"/><path d="M36 5.500 L39.500 3.800 L39 7.800Z M99 35 L102 35.500 L100.500 32.500Z" fill="none" stroke="#3a3a3a" stroke-width=".8"/><path d="M75 1.500 l2 2 m0 -2 l-2 2 M100.500 13 l2 2 m0 -2 l-2 2 M14.500 52.500 l2 2 m0 -2 l-2 2" stroke="#3a6a7a" stroke-width=".8"/><path d="M7.500 41 L5.500 43 L7.500 45 M88 51.500 L90 53.500 L88 55.500 M24.500 4.500 q1 -1.500 2 -.5" stroke="#f0643a" stroke-width=".8" fill="none"/><path d="M36.0 18.6 l2 -1 l2 1 v3.400 l-2 1 l-2 -1z" fill="#f6a821"/><path d="M38.0 19.6 l2 -1 v3.400 l-2 1z" fill="#3aa0e0"/><path d="M36.0 18.6 l2 1 v3.400 l-2 -1z" fill="#e8632a"/><text x="41.0" y="22.7" font-family="Liberation Sans, sans-serif" font-size="5.2" fill="#f4f4c8" textLength="33.0" lengthAdjust="spacingAndGlyphs">iChineseReader</text><text x="20.8" y="38.2" font-family="Liberation Sans, Noto Sans CJK SC, sans-serif" font-weight="700" font-size="12.8" fill="#1c1c1c" textLength="67" lengthAdjust="spacing">钟表和时间</text><text x="43.500" y="55.800" font-family="Liberation Sans, sans-serif" font-weight="700" font-size="8.500" fill="#3a7ff2" textLength="18" lengthAdjust="spacingAndGlyphs">min</text><text x="13" y="95.500" font-family="Liberation Sans, sans-serif" font-weight="700" font-size="9" fill="#f7a23c">h</text><circle cx="53.600" cy="92.400" r="31.800" fill="#b0a5e8" stroke="#7468d2" stroke-width="1"/><circle cx="53.600" cy="92.400" r="26.600" fill="#eeebff" stroke="#7e72d6" stroke-width=".8"/><text x="64.8" y="75.1" text-anchor="middle" font-family="Liberation Sans, sans-serif" font-weight="700" font-size="5.600" fill="#3a3a3a">1</text><text x="72.9" y="83.2" text-anchor="middle" font-family="Liberation Sans, sans-serif" font-weight="700" font-size="5.600" fill="#3a3a3a">2</text><text x="75.9" y="94.4" text-anchor="middle" font-family="Liberation Sans, sans-serif" font-weight="700" font-size="5.600" fill="#3a3a3a">3</text><text x="72.9" y="105.6" text-anchor="middle" font-family="Liberation Sans, sans-serif" font-weight="700" font-size="5.600" fill="#3a3a3a">4</text><text x="64.8" y="113.7" text-anchor="middle" font-family="Liberation Sans, sans-serif" font-weight="700" font-size="5.600" fill="#3a3a3a">5</text><text x="53.6" y="116.7" text-anchor="middle" font-family="Liberation Sans, sans-serif" font-weight="700" font-size="5.600" fill="#3a3a3a">6</text><text x="42.5" y="113.7" text-anchor="middle" font-family="Liberation Sans, sans-serif" font-weight="700" font-size="5.600" fill="#3a3a3a">7</text><text x="34.3" y="105.6" text-anchor="middle" font-family="Liberation Sans, sans-serif" font-weight="700" font-size="5.600" fill="#3a3a3a">8</text><text x="31.3" y="94.4" text-anchor="middle" font-family="Liberation Sans, sans-serif" font-weight="700" font-size="5.600" fill="#3a3a3a">9</text><text x="34.3" y="83.2" text-anchor="middle" font-family="Liberation Sans, sans-serif" font-weight="700" font-size="5.600" fill="#3a3a3a">10</text><text x="42.4" y="75.1" text-anchor="middle" font-family="Liberation Sans, sans-serif" font-weight="700" font-size="5.600" fill="#3a3a3a">11</text><text x="53.6" y="72.1" text-anchor="middle" font-family="Liberation Sans, sans-serif" font-weight="700" font-size="5.600" fill="#3a3a3a">12</text><path d="M53.600 92.400 V73" stroke="#3b84f5" stroke-width="1.300"/><path d="M51.800 74.500 L53.600 71.500 L55.400 74.500" fill="none" stroke="#3b84f5" stroke-width="1"/><path d="M53.600 92 H42" stroke="#f7a23c" stroke-width="1.600"/><path d="M43.500 89.500 L39.500 92 L43.500 94.500" fill="none" stroke="#f7a23c" stroke-width="1.300"/><path d="M53.600 92.400 L62 107.500" stroke="#f3754a" stroke-width=".9"/></svg>
<div class="b" style="left:218.13px;top:609.5px;width:119.19999999999999px;height:134.5px;background:#f5f6fc;"></div>
<svg class="b" style="left:225.03px;top:625.2px;" width="106.2" height="118.8" viewBox="0 0 107 119" preserveAspectRatio="none"><rect width="107" height="119" fill="#fff"/><rect y="3" width="107" height="2.600" fill="#f58a1f"/><rect y="8.100" width="107" height="38.300" fill="#a68fc8"/><rect y="48.900" width="107" height="2.400" fill="#f58a1f"/><path d="M30.0 13.1 l2 -1 l2 1 v3.400 l-2 1 l-2 -1z" fill="#f6a821"/><path d="M32.0 14.1 l2 -1 v3.400 l-2 1z" fill="#3aa0e0"/><path d="M30.0 13.1 l2 1 v3.400 l-2 -1z" fill="#e8632a"/><text x="35.0" y="17.2" font-family="Liberation Sans, sans-serif" font-size="5.2" fill="#fff" textLength="41.0" lengthAdjust="spacingAndGlyphs">iChineseReader</text><text x="11.3" y="37.4" font-family="Liberation Sans, Noto Sans CJK SC, sans-serif" font-weight="700" font-size="14.2" fill="#fff" textLength="83.6" lengthAdjust="spacing">动物的牙齿</text><circle cx="54" cy="92.500" r="39.200" fill="#fdc160"/><path d="M52 119 Q44 100 56 92 L78 86 Q90 100 86 119Z" fill="#f6cfc6"/><path d="M45 68 Q46 62 51 64 L55 70 L48 74Z M69 62 Q76 56 80 60 Q83 66 80 72 L72 68Z" fill="#f3bdb6"/><path d="M71.500 63.500 Q76 59 78.500 62 Q80.500 66 78.500 70 L73.500 67Z" fill="#e59a98"/><path d="M47 68 Q48 65 50.500 66.500 L52.500 70.500 L49 72Z" fill="#e59a98"/><ellipse cx="63" cy="79.500" rx="17" ry="14" fill="#f8d3ca"/><ellipse cx="60.500" cy="82.500" rx="6.500" ry="4.300" fill="#ec9c9a"/><ellipse cx="58.500" cy="82.500" rx="1" ry="1.400" fill="#b8605e"/><ellipse cx="62.500" cy="82.500" rx="1" ry="1.400" fill="#b8605e"/><path d="M52 87 Q54 84 57 87 Q61 85 64 87.500 Q68 85 70 88 Q72 84 74 82 Q78 82 76 86 Q74 92 68 93 Q60 97 54 93 Q50 91 52 87Z" fill="#eadcc0"/><path d="M49.500 80.500 q1.500 -3 3.500 -1 M68 77.500 q2.500 -3 4.500 -.5" stroke="#5a3a3a" stroke-width=".8" fill="none"/><ellipse cx="50.500" cy="84.500" rx="2" ry="1.200" fill="#f2a8a0"/><ellipse cx="73" cy="81" rx="2" ry="1.200" fill="#f2a8a0"/><circle cx="27.5" cy="60" r="3" fill="#ece0c8"/><circle cx="22" cy="83" r="5" fill="#ece0c8"/><circle cx="36.5" cy="84.5" r="5.5" fill="#ece0c8"/><circle cx="87.5" cy="81.5" r="3.2" fill="#ece0c8"/><path d="M29.500 96.500 L52 91.500 L52.500 93.500 L30 98.500Z" fill="#b03a3a"/><path d="M35 96 q3 -3 6 -1 q2 2 -1 3.500 q-3 1 -5 -.5z" fill="#4a2a2a"/><path d="M64 101.500 l4.500 -2.500 l2.500 4 l-3.500 3.500z" fill="#4a2a2a"/><path d="M4 113 Q3 103 9.500 99.500 Q14 94 20.500 96 Q27 95 29.500 101 Q33.500 105 30.500 110 Q30 116 24 117.500 Q16 120 10 117.500 Q5 117 4 113Z" fill="#fdf5d6"/><circle cx="15.300" cy="106.500" r="2.300" fill="#4a2a2a"/><circle cx="22" cy="106" r="2.300" fill="#4a2a2a"/><path d="M16.500 111 q2.500 1 5 -.5 q-.5 3.500 -2.700 3.500 q-2 0 -2.300 -3z" fill="#c8323a"/></svg>
<div class="b" style="left:343.96px;top:609.5px;width:119.20000000000005px;height:134.5px;background:#f5f6fc;"></div>
<svg class="b" style="left:350.86px;top:625.2px;" width="106.2" height="118.8" viewBox="0 0 107 119" preserveAspectRatio="none"><rect width="107" height="119" fill="#6c9c40"/><path d="M0 0 H3 Q8 20 22 26 Q10 40 12 62 Q16 76 0 84Z" fill="#e8efe8"/><path d="M0 70 Q10 72 14 84 H0Z" fill="#cfdde6"/><path d="M18 30 Q40 0 107 14 V70 Q70 84 30 84 Q8 60 18 30Z" fill="#5f9238"/><path d="M66 0 H107 V22 Q86 24 74 12Z" fill="#9cb84c"/><path d="M64 84 Q66 64 86 62 Q98 56 107 60 V84Z" fill="#a0b950"/><path d="M30 8 Q70 6 107 44 M24 20 Q60 30 100 70 M58 50 Q80 40 107 50" stroke="#4f8030" stroke-width=".8" fill="none"/><path d="M2 10 Q0 30 8 44 Q2 60 10 74" stroke="#5f9238" stroke-width="1.200" fill="none"/><path d="M4 24 q6 -4 10 0 q-6 4 -10 0z M5 36 q7 -2 9 3 q-6 2 -9 -3z M2 50 q5 -4 9 0 q-5 4 -9 0z" fill="#6c9c40"/><path d="M36 10 Q44 4 48 11 Q56 14 54 26 Q50 30 46 26 L40 14Z" fill="#b9683e"/><path d="M28 42 Q40 34 50 40 Q55 56 52 70 L44 72 L41 84 H14 Q14 66 22 60 Q22 48 28 42Z" fill="#d8763a"/><path d="M44 72 Q50 70 52 66 L52 74 Q48 76 44 74Z" fill="#c96a32"/><path d="M27 39 Q32 36 36 38 Q42 33 48 36 Q49 42 44 43 Q40 46 36 43 Q30 45 27 39Z" fill="#f2c048"/><path d="M36.500 43 L33.500 50 L37.500 48.500 L40 51.500 L38.500 43.500Z" fill="#b4382e"/><ellipse cx="33.500" cy="26" rx="9" ry="9.500" fill="#fbe7d8"/><path d="M21 24 Q20 12 32 10 Q44 8 46 20 Q40 16 34 18 Q28 18 25 28 Q21 28 21 24Z" fill="#c67a50"/><circle cx="29.500" cy="27" r="1.300" fill="#3a2a2a"/><circle cx="37" cy="25" r="1.300" fill="#3a2a2a"/><path d="M31.500 31 q2.500 -1 4.500 -2 q0 4 -2.500 4 q-2 0 -2 -2z" fill="#c83a32"/><path d="M46 72 Q52 72 55 78 Q52 80 48 78Z" fill="#fbe7d8"/><path d="M78 44 Q84 40 92 44 Q98 52 94 60 L96 64 L90 62 L84 62 L80 64 L80 60 Q74 52 78 44Z" fill="#3f6c36"/><path d="M78 58 L72 56 L74 62 L82 64Z M92 60 L96 66 L90 64Z" fill="#35602f"/><path d="M82 50 L84 60 L88 60 L88 50Z" fill="#6a9a58"/><circle cx="80.500" cy="37" r="3.600" fill="#fff"/><circle cx="86.500" cy="37.500" r="3.600" fill="#fff"/><circle cx="80.500" cy="37" r="1.800" fill="#3a2222"/><circle cx="86.500" cy="37.500" r="1.800" fill="#3a2222"/><path d="M79.500 41.500 q3.500 2.500 7 0 q-3.500 0 -7 0z" fill="#e2502a" stroke="#e2502a" stroke-width=".8"/><rect y="83.600" width="107" height="2.200" fill="#6b6fd1"/><rect y="85.800" width="107" height="2.600" fill="#c7dda8"/><rect y="88.400" width="107" height="31" fill="#ee9759"/><rect x="18" y="86" width="14" height="2.400" fill="#f4f4ea"/><path d="M30.0 95.1 l2 -1 l2 1 v3.400 l-2 1 l-2 -1z" fill="#f6a821"/><path d="M32.0 96.1 l2 -1 v3.400 l-2 1z" fill="#3aa0e0"/><path d="M30.0 95.1 l2 1 v3.400 l-2 -1z" fill="#e8632a"/><text x="35.0" y="99.2" font-family="Liberation Sans, sans-serif" font-size="5.2" fill="#fff" textLength="41.0" lengthAdjust="spacingAndGlyphs">iChineseReader</text><text x="8.1" y="118.2" font-family="Liberation Sans, Noto Sans CJK SC, sans-serif" font-weight="700" font-size="14.2" fill="#fdf3e4" textLength="90.5" lengthAdjust="spacing">童话是真的吗</text></svg>
<div class="b" style="left:469.79px;top:609.5px;width:119.19999999999999px;height:134.5px;background:#f5f6fc;"></div>
<svg class="b" style="left:476.69px;top:625.2px;" width="106.2" height="118.8" viewBox="0 0 107 119" preserveAspectRatio="none"><rect width="107" height="119" fill="#3eaeeb"/><path d="M0 5.100 H17 Q19.500 7.500 17 9.900 H0Z" fill="#8d72cf"/><rect x="2" y="6.500" width="13" height="2" fill="#e6dcf8" opacity=".9"/><rect x="41" y="13.600" width="27.700" height="4.800" rx="2.400" fill="#6b4b3c"/><rect x="45" y="15.400" width="20" height="1.300" fill="#e8d8cc"/><path d="M34 13.500 l2.200 -1.200 l2.200 1.200 v3.600 l-2.200 1.200 l-2.200 -1.200z" fill="#f6b021"/><path d="M36.200 14.700 l2.200 -1.200 v3.600 l-2.200 1.200z" fill="#e8632a"/><rect x="84" y="5" width="7" height="4" fill="#6cc2f0" transform="rotate(12 87 7)"/><circle cx="10" cy="16" r="2" fill="#5bbaee"/><path d="M7 44 l4 -2 l3 3 l-2 4 l-4 0z" fill="#5bbaee"/><path d="M92 48 l3 -8" stroke="#6cc2f0" stroke-width="1"/><text x="4.6" y="37.8" font-family="Liberation Sans, Noto Sans CJK SC, sans-serif" font-weight="700" font-size="12.4" fill="#2c4c90" stroke="#2c4c90" stroke-width="1.7" stroke-linejoin="round" textLength="96.4" lengthAdjust="spacing">平面图形-正方形</text><text x="4.6" y="37.8" font-family="Liberation Sans, Noto Sans CJK SC, sans-serif" font-weight="700" font-size="12.4" fill="#fff" textLength="96.4" lengthAdjust="spacing">平面图形-正方形</text><path d="M5 62 Q5 56.500 10 56.500 H96 Q101 56.500 101 62 V119 H5Z" fill="#fff"/><rect x="9.200" y="52" width="87.300" height="6.200" rx="3.100" fill="#fff" stroke="#3e9ee6" stroke-width=".6"/><rect x="33" y="54.400" width="3" height="1.500" fill="#555"/><rect x="38" y="54.400" width="13" height="1.500" fill="#555"/><rect x="55" y="54.400" width="3" height="1.500" fill="#555"/><rect x="60.500" y="54.400" width="14" height="1.500" fill="#555"/><rect x="26.200" y="66.200" width="52.600" height="53" fill="#ff7419" stroke="#e0600a" stroke-width=".4"/></svg>
<div class="b" style="left:595.62px;top:609.5px;width:119.20000000000005px;height:134.5px;background:#f5f6fc;"></div>
<svg class="b" style="left:602.52px;top:625.2px;" width="106.2" height="118.8" viewBox="0 0 107 119" preserveAspectRatio="none"><rect width="107" height="119" fill="#3eaeeb"/><path d="M0 5.100 H17 Q19.500 7.500 17 9.900 H0Z" fill="#8d72cf"/><rect x="2" y="6.500" width="13" height="2" fill="#e6dcf8" opacity=".9"/><rect x="41" y="13.600" width="27.700" height="4.800" rx="2.400" fill="#6b4b3c"/><rect x="45" y="15.400" width="20" height="1.300" fill="#e8d8cc"/><path d="M34 13.500 l2.200 -1.200 l2.200 1.200 v3.600 l-2.200 1.200 l-2.200 -1.200z" fill="#f6b021"/><path d="M36.200 14.700 l2.200 -1.200 v3.600 l-2.200 1.200z" fill="#e8632a"/><rect x="84" y="5" width="7" height="4" fill="#6cc2f0" transform="rotate(12 87 7)"/><circle cx="10" cy="16" r="2" fill="#5bbaee"/><path d="M7 44 l4 -2 l3 3 l-2 4 l-4 0z" fill="#5bbaee"/><path d="M92 48 l3 -8" stroke="#6cc2f0" stroke-width="1"/><text x="6.4" y="37.8" font-family="Liberation Sans, Noto Sans CJK SC, sans-serif" font-weight="700" font-size="12.4" fill="#2c4c90" stroke="#2c4c90" stroke-width="1.7" stroke-linejoin="round" textLength="92.6" lengthAdjust="spacing">平面图形-菱形</text><text x="6.4" y="37.8" font-family="Liberation Sans, Noto Sans CJK SC, sans-serif" font-weight="700" font-size="12.4" fill="#fff" textLength="92.6" lengthAdjust="spacing">平面图形-菱形</text><path d="M5 62 Q5 56.500 10 56.500 H96 Q101 56.500 101 62 V119 H5Z" fill="#fff"/><rect x="9.200" y="52" width="87.300" height="6.200" rx="3.100" fill="#fff" stroke="#3e9ee6" stroke-width=".6"/><rect x="33" y="54.400" width="3" height="1.500" fill="#555"/><rect x="38" y="54.400" width="13" height="1.500" fill="#555"/><rect x="55" y="54.400" width="3" height="1.500" fill="#555"/><rect x="60.500" y="54.400" width="14" height="1.500" fill="#555"/><path d="M52.600 67.600 L94.400 92.400 L52.600 117.600 L11.200 92.400Z" fill="#ffe61c" stroke="#8a7a1a" stroke-width=".4"/></svg>
<div class="b" style="left:721.45px;top:609.5px;width:119.19999999999993px;height:134.5px;background:#f5f6fc;"></div>
<svg class="b" style="left:728.35px;top:625.2px;" width="106.2" height="118.8" viewBox="0 0 107 119" preserveAspectRatio="none"><rect width="107" height="119" fill="#fff"/><ellipse cx="8" cy="14" rx="9" ry="10" fill="#c6ddf2"/><ellipse cx="22" cy="3" rx="8" ry="4" fill="#e6c2cf"/><ellipse cx="38" cy="14" rx="12" ry="8" fill="#f0d0dc"/><ellipse cx="62" cy="18" rx="12" ry="12" fill="#c9b7e8"/><ellipse cx="72" cy="4" rx="8" ry="5" fill="#f3e3c0"/><ellipse cx="90" cy="12" rx="10" ry="9" fill="#c6ddf2"/><ellipse cx="102" cy="2" rx="6" ry="4" fill="#e6c2cf"/><ellipse cx="3" cy="36" rx="4" ry="6" fill="#bfe3d2"/><ellipse cx="14" cy="38" rx="8" ry="6" fill="#f2dcc2"/><ellipse cx="40" cy="42" rx="10" ry="6" fill="#d6e8d0"/><ellipse cx="84" cy="40" rx="10" ry="10" fill="#bfe3d2"/><ellipse cx="103" cy="36" rx="5" ry="9" fill="#f2dcc2"/><ellipse cx="3" cy="64" rx="4" ry="8" fill="#e6c2cf"/><ellipse cx="14" cy="56" rx="8" ry="7" fill="#c6ddf2"/><ellipse cx="100" cy="58" rx="7" ry="10" fill="#c6ddf2"/><ellipse cx="104" cy="84" rx="5" ry="8" fill="#e6c2cf"/><ellipse cx="4" cy="104" rx="6" ry="10" fill="#c6ddf2"/><ellipse cx="100" cy="106" rx="8" ry="8" fill="#c6ddf2"/><ellipse cx="12" cy="118" rx="6" ry="3" fill="#f3e3c0"/><path d="M52 14 l5 10 l6 -10 l5 2 l-8 18 l-6 0 l-7 -18z" fill="#c9b7e8"/><path d="M78 38 l10 2 l-10 22 l-6 -2z" fill="#bfe3d2"/><path d="M31.0 4.6 l2 -1 l2 1 v3.400 l-2 1 l-2 -1z" fill="#f6a821"/><path d="M33.0 5.6 l2 -1 v3.400 l-2 1z" fill="#3aa0e0"/><path d="M31.0 4.600 l2 1 v3.400 l-2 -1z" fill="#e8632a"/><text x="36.0" y="8.7" font-family="Liberation Sans, sans-serif" font-size="5.2" fill="#7a7a7a" textLength="41.0" lengthAdjust="spacingAndGlyphs">iChineseReader</text><defs><clipPath id="c6"><circle cx="52.500" cy="91" r="46.500"/></clipPath></defs><circle cx="52.500" cy="91" r="47.500" fill="#fff" stroke="#c3dcb6" stroke-width=".9"/><g clip-path="url(#c6)"><rect x="0" y="40" width="107" height="80" fill="#eef8fb"/><path d="M0 62 Q16 52 30 60 Q44 52 60 62 Q80 52 107 64 V80 H0Z" fill="#cfe6f3"/><path d="M0 74 Q30 64 60 72 Q85 66 107 76 V119 H0Z" fill="#8fd45c"/><path d="M0 96 Q30 88 60 100 Q80 104 107 96 V119 H0Z" fill="#7cc84e"/><path d="M0 92 Q16 90 28 96 Q40 104 34 110 Q24 114 20 119 H0Z" fill="#8ec6ec"/><path d="M58 92 Q66 78 80 76 Q92 78 98 92 Q80 96 58 92Z" fill="#8699aa"/><path d="M70 66 Q69 61 72 62 L75 63.500 Q77 62 79 63 Q82 61 81.500 66 Q83 70 80 72 Q88 70 94 74 Q97 70 96.500 66 Q98 64 98 68 Q98 76 94 79 Q84 81 72 79 Q68 74 70 66Z" fill="#cd7a3a"/><circle cx="73.500" cy="67.500" r="1.600" fill="#fff"/><circle cx="78" cy="67.500" r="1.600" fill="#fff"/><circle cx="73.500" cy="67.500" r=".8" fill="#333"/><circle cx="78" cy="67.500" r=".8" fill="#333"/><path d="M44 66 Q42 62 46 62 Q50 60 52 63 Q54 62 54 65 Q56 68 62 68 Q68 68 68 76 L66 86 H63 L62 80 H54 L53 86 H50 L48 74 Q43 72 44 66Z" fill="#fbefd6"/><path d="M23 62 Q26 60 28 64 Q34 66 38 64 Q42 64 42 68 L40 72 L42 76 H40 L37 71 L32 72 L30 77 H28 L29 70 Q26 68 26 66 L23 65Z" fill="#8a5348"/><path d="M9 70 q3 -3 5 0 v6 h-4z" fill="#fff"/><path d="M48 58 q4 -6 7 -2 q5 -1 3 2 q-3 3 -10 0z" fill="#f8c93a"/><path d="M42 96 Q44 91 50 92 Q58 90 64 94 Q68 98 66 104 L64 110 H60 L59 106 H52 L51 110 H47 L46 104 Q41 102 42 96Z" fill="#f6b9c0"/><circle cx="46" cy="97.500" r=".9" fill="#333"/><circle cx="50" cy="97.500" r=".9" fill="#333"/><path d="M64 94 q1 -5 3 -2 q1 2 0 4 q2 2 0 4 h-5z" fill="#f0a4a0"/><path d="M27 104 q3 -5 6 0 q2 3 -3 4 q-5 0 -3 -4z" fill="#5aa848"/><path d="M15 87 q1.600 -3 3.200 0 q0 3 -1.600 3 q-1.600 0 -1.600 -3z" fill="#f8cc2e"/><path d="M16.6 90 v4" stroke="#4a9a3a" stroke-width=".8"/><path d="M20 83 q1.600 -3 3.200 0 q0 3 -1.600 3 q-1.600 0 -1.600 -3z" fill="#f8cc2e"/><path d="M21.6 86 v4" stroke="#4a9a3a" stroke-width=".8"/><path d="M21 91 q1.600 -3 3.200 0 q0 3 -1.600 3 q-1.600 0 -1.600 -3z" fill="#f8cc2e"/><path d="M22.6 94 v4" stroke="#4a9a3a" stroke-width=".8"/><path d="M49 87 q1.600 -3 3.200 0 q0 3 -1.600 3 q-1.600 0 -1.600 -3z" fill="#f8cc2e"/><path d="M50.6 90 v4" stroke="#4a9a3a" stroke-width=".8"/><path d="M54 83 q1.600 -3 3.200 0 q0 3 -1.600 3 q-1.600 0 -1.600 -3z" fill="#f8cc2e"/><path d="M55.6 86 v4" stroke="#4a9a3a" stroke-width=".8"/><path d="M75 90 q1.600 -3 3.200 0 q0 3 -1.600 3 q-1.600 0 -1.600 -3z" fill="#f8cc2e"/><path d="M76.6 93 v4" stroke="#4a9a3a" stroke-width=".8"/><path d="M90 86 q1.600 -3 3.200 0 q0 3 -1.600 3 q-1.600 0 -1.600 -3z" fill="#f8cc2e"/><path d="M91.6 89 v4" stroke="#4a9a3a" stroke-width=".8"/><path d="M95 92 q1.600 -3 3.200 0 q0 3 -1.600 3 q-1.600 0 -1.600 -3z" fill="#f8cc2e"/><path d="M96.6 95 v4" stroke="#4a9a3a" stroke-width=".8"/><path d="M66 119 Q68 104 76 108 Q80 98 88 104 Q96 100 98 110 L100 119Z" fill="#5cb04a"/><path d="M18 119 q1 -8 3 0z M24 119 q1 -10 3 0z M60 119 q1 -10 3 0z" fill="#3f8a3a"/></g><text x="8" y="34.8" font-family="Liberation Sans, Noto Sans CJK SC, sans-serif" font-weight="700" font-size="15" fill="#fff" stroke="#fff" stroke-width="3.6" opacity=".85" stroke-linejoin="round" textLength="90.4" lengthAdjust="spacing">小动物的叫声</text><text x="8" y="34.8" font-family="Liberation Sans, Noto Sans CJK SC, sans-serif" font-weight="700" font-size="15" fill="#4a8c3c" stroke="#4a8c3c" stroke-width="2.3" stroke-linejoin="round" textLength="90.4" lengthAdjust="spacing">小动物的叫声</text><text x="8" y="34.8" font-family="Liberation Sans, Noto Sans CJK SC, sans-serif" font-weight="700" font-size="15" fill="#fff" textLength="90.4" lengthAdjust="spacing">小动物的叫声</text></svg>
<div class="b" style="left:847.28px;top:609.5px;width:119.20000000000005px;height:134.5px;background:#f5f6fc;"></div>
<svg class="b" style="left:854.18px;top:625.2px;" width="106.2" height="118.8" viewBox="0 0 107 119" preserveAspectRatio="none"><rect width="107" height="119" fill="#dce6fb"/><rect y="2.500" width="107" height="2.300" fill="#9a70c2"/><rect y="7.400" width="107" height="46.800" fill="#e8954f"/><rect y="57.400" width="107" height="2.300" fill="#9a70c2"/><path d="M31.0 11.4 l2 -1 l2 1 v3.400 l-2 1 l-2 -1z" fill="#f6a821"/><path d="M33.0 12.4 l2 -1 v3.400 l-2 1z" fill="#3aa0e0"/><path d="M31.0 11.4 l2 1 v3.400 l-2 -1z" fill="#e8632a"/><text x="36.0" y="15.5" font-family="Liberation Sans, sans-serif" font-size="5.2" fill="#fff" textLength="41.0" lengthAdjust="spacingAndGlyphs">iChineseReader</text><text x="18.6" y="32.4" font-family="Liberation Sans, Noto Sans CJK SC, sans-serif" font-size="12.6" fill="#fff" textLength="70.7" lengthAdjust="spacing">什么最厉害</text><text x="23.6" y="48" font-family="Liberation Sans, Noto Sans CJK SC, sans-serif" font-size="12.4" fill="#fff" textLength="38.6" lengthAdjust="spacing">小剧场</text><text x="76" y="48" text-anchor="middle" font-family="Liberation Sans, Noto Sans CJK SC, sans-serif" font-size="12.4" fill="#fff">(下)</text><path d="M10 72 L13 68 L32 78 L30.500 81.500Z" fill="#f4f6fa" stroke="#555" stroke-width=".5"/><path d="M10 72 L13 68 L17 70 L14.500 74.500Z M28 76 l3 1.600 l-1.200 3 l-3 -1.600z" fill="#555"/><path d="M21 80 L17.500 88 M21 80 L23.500 88" stroke="#444" stroke-width="1.100"/><path d="M46 72 Q52 64 60 68 Q62 76 52 79 Q48 78 46 72Z" fill="#f1f1f4" stroke="#999" stroke-width=".5"/><path d="M52 78 L50 87 H60 L56 77Z" fill="#d8d8de"/><path d="M43 66 q3 -4 7 -4 M44.500 69 q2 -3 5 -3" stroke="#888" stroke-width=".6" fill="none"/><path d="M69 76 Q72 72 80 73 L92 74 Q97 74 97 77 Q92 80 80 79 Q72 80 69 76Z" fill="#f6f6f8" stroke="#999" stroke-width=".4"/><path d="M76 66 L78 64 L82 74 H78Z M80 78 L86 87 L84 88 L77 79Z M92 74 l3 -4 l1.500 .5 l-1 4z" fill="#e45a52"/><path d="M69 76 l2 -1.500 l1 2.500z" fill="#e45a52"/><text x="33" y="98" font-family="Liberation Sans, sans-serif" font-weight="700" font-size="26" fill="#f9a94c">?</text><text x="12" y="98" font-family="Liberation Sans, sans-serif" font-weight="700" font-size="16" fill="#f9a94c">?</text><text x="70" y="98" font-family="Liberation Sans, sans-serif" font-weight="700" font-size="15" fill="#f9a94c">?</text><path d="M12 119 Q12 108 20 107 Q30 106 32 119Z" fill="#e23b2b"/><path d="M3 119 L7 110 L10 119Z M33 119 L38 111 L42 119Z" fill="#e23b2b"/><path d="M14 108 q-2 -5 -5 -5 M27 107 q2 -5 5 -5" stroke="#c8322a" stroke-width=".5" fill="none"/><path d="M53 119 Q50 106 56 102 Q62 106 62 119Z M66 119 Q66 108 74 107 Q78 110 74 119Z" fill="#8c8a9c"/><path d="M55 117 Q54 108 57 106 Q60 110 59.500 118Z M68 119 Q69 112 73 110 Q75 112 72 119Z" fill="#f0b4be"/><path d="M56 119 q8 -6 20 0z" fill="#8c8a9c"/><path d="M86 119 Q88 110 98 110 Q106 111 107 116 V119Z" fill="#2a70d2"/><path d="M74 113.500 L90 115.500 L89 117.500Z" fill="#333"/><path d="M92 117 q6 -3 12 1 v1 h-12z" fill="#f2f2f2"/></svg>
<svg class="b" style="left:70px;top:697px;" width="16" height="20" viewBox="0 0 16 20" fill="none"><path d="M11.500 4.300 L4.800 10.350 L11.500 16.400" stroke="#6fcdcb" stroke-width="2.300" fill="none"/></svg>
<svg class="b" style="left:980px;top:697px;" width="16" height="20" viewBox="0 0 16 20" fill="none"><path d="M5.500 4.300 L12.200 10.350 L5.500 16.400" stroke="#6fcdcb" stroke-width="2.300" fill="none"/></svg>
<div class="b" style="left:42px;top:744px;width:982px;height:24px;background:#edf2fa;"></div>
<div class="b" style="left:384px;top:756.5px;width:256px;height:5.0px;background:#0a0a0a;border-radius:3px;"></div>
</body></html>
